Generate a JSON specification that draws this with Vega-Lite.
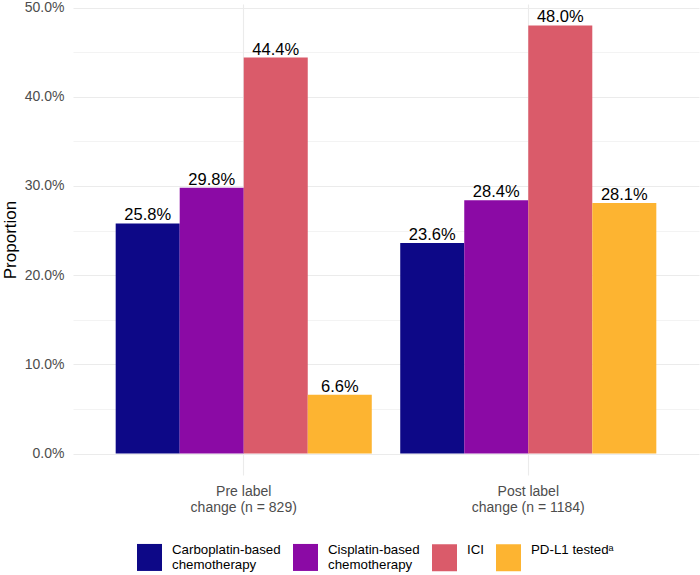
{
  "$schema": "https://vega.github.io/schema/vega-lite/v6.json",
  "width": 626,
  "height": 471,
  "autosize": {"type": "none"},
  "padding": {"left": 73, "top": 4, "right": 1, "bottom": 100},
  "background": "white",
  "config": {
    "view": {"stroke": null},
    "font": "Liberation Sans"
  },
  "data": {
    "values": [
      {"period": "Pre label\nchange (n = 829)", "group": "Carboplatin-based\nchemotherapy", "value": 0.258},
      {"period": "Pre label\nchange (n = 829)", "group": "Cisplatin-based\nchemotherapy", "value": 0.298},
      {"period": "Pre label\nchange (n = 829)", "group": "ICI", "value": 0.444},
      {"period": "Pre label\nchange (n = 829)", "group": "PD-L1 testedᵃ", "value": 0.066},
      {"period": "Post label\nchange (n = 1184)", "group": "Carboplatin-based\nchemotherapy", "value": 0.236},
      {"period": "Post label\nchange (n = 1184)", "group": "Cisplatin-based\nchemotherapy", "value": 0.284},
      {"period": "Post label\nchange (n = 1184)", "group": "ICI", "value": 0.48},
      {"period": "Post label\nchange (n = 1184)", "group": "PD-L1 testedᵃ", "value": 0.281}
    ]
  },
  "encoding": {
    "x": {
      "field": "period",
      "type": "nominal",
      "sort": ["Pre label\nchange (n = 829)", "Post label\nchange (n = 1184)"],
      "scale": {"paddingInner": 0.1, "paddingOuter": 0.15},
      "axis": {
        "title": null,
        "labelAngle": 0,
        "labelExpr": "split(datum.label, '\\n')",
        "labelFontSize": 14,
        "labelLineHeight": 16,
        "labelColor": "#4D4D4D",
        "labelPadding": 9,
        "labelBaseline": "top",
        "ticks": false,
        "tickSize": 0,
        "domain": false,
        "grid": true,
        "bandPosition": 0.5,
        "gridColor": "#EBEBEB",
        "gridWidth": 1.1
      }
    },
    "xOffset": {
      "field": "group",
      "type": "nominal",
      "sort": ["Carboplatin-based\nchemotherapy", "Cisplatin-based\nchemotherapy", "ICI", "PD-L1 testedᵃ"],
      "scale": {"paddingInner": 0, "paddingOuter": 0}
    },
    "y": {
      "field": "value",
      "type": "quantitative",
      "scale": {"domain": [-0.024, 0.504], "nice": false},
      "axis": {
        "title": "Proportion",
        "titleFontSize": 17,
        "titleFontWeight": "normal",
        "titleColor": "black",
        "titlePadding": 5,
        "values": [0, 0.05, 0.1, 0.15, 0.2, 0.25, 0.3, 0.35, 0.4, 0.45, 0.5],
        "labelExpr": "round(datum.value * 100) % 10 === 0 ? format(datum.value, '.1%') : ''",
        "labelFontSize": 14,
        "labelColor": "#4D4D4D",
        "labelPadding": 9,
        "ticks": false,
        "tickSize": 0,
        "domain": false,
        "gridColor": "#EBEBEB",
        "gridWidth": {"condition": {"test": "round(datum.value * 100) % 10 !== 0", "value": 0.6}, "value": 1.1}
      }
    }
  },
  "layer": [
    {
      "mark": {"type": "bar"},
      "encoding": {
        "color": {
          "field": "group",
          "type": "nominal",
          "sort": ["Carboplatin-based\nchemotherapy", "Cisplatin-based\nchemotherapy", "ICI", "PD-L1 testedᵃ"],
          "scale": {"range": ["#0D0887", "#8B0AA5", "#DA5B6A", "#FDB431"]},
          "legend": {
            "title": null,
            "orient": "none",
            "legendX": 64,
            "legendY": 533,
            "direction": "horizontal",
            "columns": 4,
            "symbolType": "M-1,-0.48H1V1.68H-1Z",
            "symbolSize": 625,
            "symbolStrokeWidth": 0,
            "symbolOpacity": 1,
            "labelExpr": "split(datum.label, '\\n')",
            "labelFontSize": 13.3,
            "labelLineHeight": 16,
            "labelColor": "black",
            "labelOffset": 10,
            "labelLimit": 300,
            "columnPadding": 12
          }
        }
      }
    },
    {
      "mark": {"type": "text", "baseline": "alphabetic", "dy": -3, "fontSize": 16.5, "color": "black"},
      "encoding": {
        "text": {"field": "value", "type": "quantitative", "format": ".1%"}
      }
    }
  ]
}
